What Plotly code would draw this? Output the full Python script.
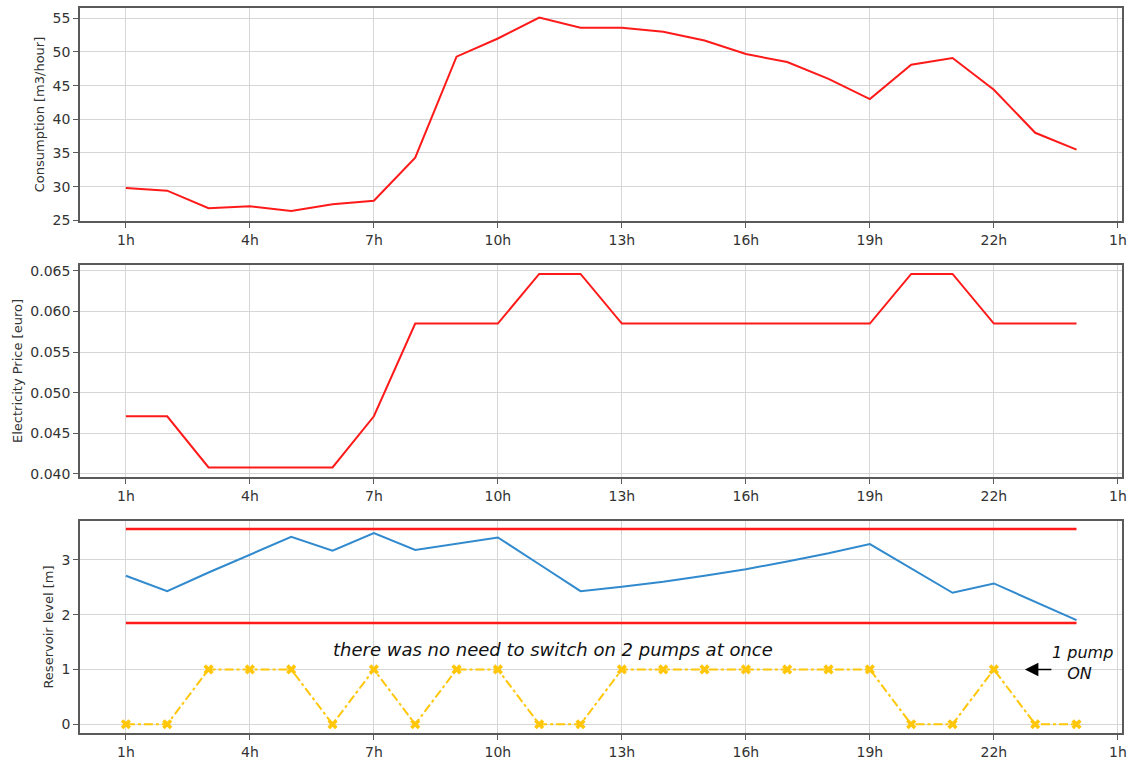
import plotly.graph_objects as go
from plotly.subplots import make_subplots

# Hour index 0..23 (1h .. 24h)
hours = list(range(24))

consumption = [29.8, 29.4, 26.8, 27.1, 26.4, 27.4, 27.9, 34.3, 49.3, 52.0, 55.1, 53.6,
               53.6, 53.0, 51.7, 49.7, 48.5, 46.0, 43.0, 48.1, 49.1, 44.4, 38.0, 35.5]

price = [0.0471, 0.0471, 0.0408, 0.0408, 0.0408, 0.0408, 0.0471, 0.0585, 0.0585, 0.0585,
         0.0646, 0.0646, 0.0585, 0.0585, 0.0585, 0.0585, 0.0585, 0.0585, 0.0585, 0.0646,
         0.0646, 0.0585, 0.0585, 0.0585]

level = [2.71, 2.43, 2.77, 3.10, 3.42, 3.17, 3.49, 3.18, 3.30, 3.41, 2.92, 2.43,
         2.51, 2.60, 2.71, 2.83, 2.97, 3.12, 3.29, 2.85, 2.40, 2.57, 2.23, 1.90]

pumps = [0, 0, 1, 1, 1, 0, 1, 0, 1, 1, 0, 0, 1, 1, 1, 1, 1, 1, 1, 0, 0, 1, 0, 0]

level_max = 3.566
level_min = 1.85

tick_vals = [0, 3, 6, 9, 12, 15, 18, 21, 24]
tick_text = ["1h", "4h", "7h", "10h", "13h", "16h", "19h", "22h", "1h"]

RED = "#ff1a1a"
BLUE = "#318ace"
GOLD = "#ffc60a"
GRID = "#d6d6d6"
FRAME = "#5a5a5a"
FONT = "DejaVu Sans"

fig = make_subplots(rows=3, cols=1, shared_xaxes=False, vertical_spacing=0.06)

fig.add_trace(go.Scatter(x=hours, y=consumption, mode="lines",
                         line=dict(color=RED, width=2)), row=1, col=1)
fig.add_trace(go.Scatter(x=hours, y=price, mode="lines",
                         line=dict(color=RED, width=2)), row=2, col=1)
fig.add_trace(go.Scatter(x=[hours[0], hours[-1]], y=[level_max, level_max], mode="lines",
                         line=dict(color=RED, width=2.5)), row=3, col=1)
fig.add_trace(go.Scatter(x=[hours[0], hours[-1]], y=[level_min, level_min], mode="lines",
                         line=dict(color=RED, width=2.5)), row=3, col=1)
fig.add_trace(go.Scatter(x=hours, y=level, mode="lines",
                         line=dict(color=BLUE, width=2)), row=3, col=1)
fig.add_trace(go.Scatter(x=hours, y=pumps, mode="lines+markers",
                         line=dict(color=GOLD, width=2, dash="dashdot"),
                         marker=dict(symbol="x", size=9, color=GOLD,
                                     line=dict(width=0))), row=3, col=1)

domains = [[0.7062, 1.0], [0.3531, 0.6455], [0.0, 0.2924]]
y_ranges = [[24.9, 56.53], [0.03963, 0.0657], [-0.16, 3.71]]
y_ticks = [[25, 30, 35, 40, 45, 50, 55],
           [0.040, 0.045, 0.050, 0.055, 0.060, 0.065],
           [0, 1, 2, 3]]
y_titles = ["Consumption [m3/hour]", "Electricity Price [euro]", "Reservoir level [m]"]
y_formats = ["d", ".3f", "d"]

for i in range(3):
    fig.update_xaxes(row=i + 1, col=1, range=[-1.11, 24.1], tickvals=tick_vals,
                     ticktext=tick_text, showgrid=True, gridcolor=GRID, gridwidth=1,
                     showline=True, linecolor=FRAME, linewidth=1.5, mirror=True,
                     ticks="outside", ticklen=5, tickcolor=FRAME, zeroline=False,
                     automargin=False,
                     tickfont=dict(family=FONT, size=14, color="#333333"))
    fig.update_yaxes(row=i + 1, col=1, range=y_ranges[i], domain=domains[i],
                     tickvals=y_ticks[i], tickformat=y_formats[i],
                     showgrid=True, gridcolor=GRID, gridwidth=1,
                     showline=True, linecolor=FRAME, linewidth=1.5, mirror=True,
                     ticks="outside", ticklen=5, tickcolor=FRAME, zeroline=False,
                     automargin=False,
                     tickfont=dict(family=FONT, size=14, color="#333333"),
                     title=dict(text=y_titles[i], standoff=5,
                                font=dict(family=FONT, size=13, color="#333333")))

fig.add_annotation(x=10.33, y=1.36, xref="x3", yref="y3",
                   text="<i>there was no need to switch on 2 pumps at once</i>",
                   showarrow=False, font=dict(family=FONT, size=18, color="#111111"))

# arrow pointing to the single-pump state
fig.add_annotation(x=21.75, y=1.0, xref="x3", yref="y3", text="",
                   showarrow=True, arrowhead=2, arrowsize=1.8, arrowwidth=1.5,
                   arrowcolor="#000000", ax=28, ay=0)
fig.add_annotation(x=22.36, y=1.12, xref="x3", yref="y3",
                   text="<i>1 pump</i><br><i>&nbsp;&nbsp;&nbsp;ON</i>",
                   xanchor="left", align="left", showarrow=False,
                   font=dict(family=FONT, size=16, color="#111111"))

fig.update_layout(width=1130, height=761, showlegend=False,
                  margin=dict(l=80, r=8, t=8, b=28, autoexpand=False),
                  paper_bgcolor="white", plot_bgcolor="white")

fig.write_html("out.html")
